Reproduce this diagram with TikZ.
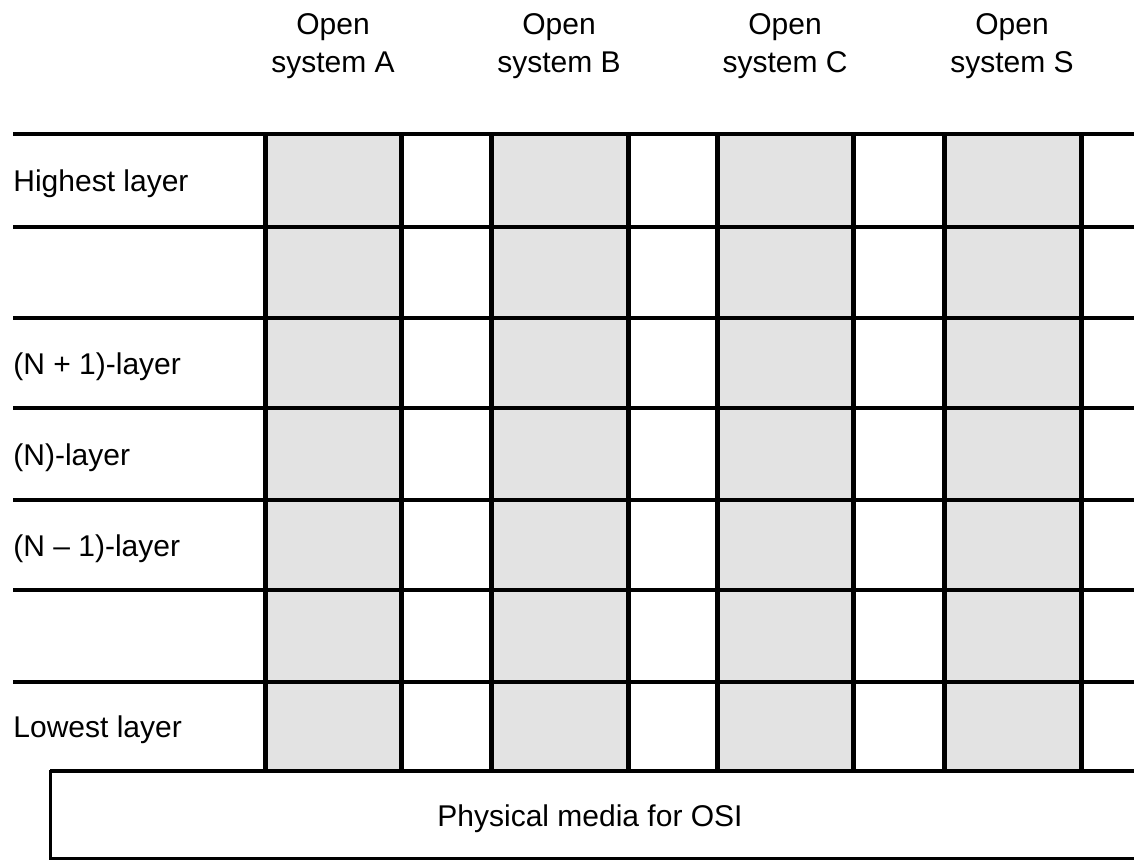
\documentclass[tikz,border=0pt]{standalone}
\usepackage{fontspec}
\setmainfont{Liberation Sans}
\begin{document}
\begin{tikzpicture}[x=0.5pt,y=-0.5pt,
  hline/.style={line width=2pt},
  vline/.style={line width=2.5pt},
  shade/.style={fill=black!11},
  lbl/.style={font=\fontsize{15}{18}\selectfont, inner sep=0pt, anchor=base west},
  hdr/.style={font=\fontsize{15}{18}\selectfont, inner sep=0pt, anchor=base},
  medium/.style={draw, line width=1.5pt}]
\useasboundingbox (0,0) rectangle (1134,861);
% shaded columns
\foreach \l/\r in {265/401, 491/628, 717/853, 944/1081}
  \fill[shade] (\l,134) rectangle (\r,771);
% horizontal layer lines
\foreach \y in {134,227,318,408,500,590,682}
  \draw[hline] (13,\y) -- (1134,\y);
% vertical lines
\foreach \x in {265,401,491,628,717,853,944,1081}
  \draw[vline] (\x,134) -- (\x,771);
% physical media
\draw[medium] (1140,771) -- (50,771) -- (50,858) -- (1140,858);
\draw[hline] (50,771) -- (1134,771);
\node[hdr] (pm) at (590,826) {Physical media for OSI};
% headers
\node[hdr] (hA1) at (333,35) {Open};
\node[hdr] (hA2) at (333,73) {system A};
\node[hdr] (hB1) at (559,35) {Open};
\node[hdr] (hB2) at (559,73) {system B};
\node[hdr] (hC1) at (785,35) {Open};
\node[hdr] (hC2) at (785,73) {system C};
\node[hdr] (hS1) at (1012,35) {Open};
\node[hdr] (hS2) at (1012,73) {system S};
% layer labels
\node[lbl] (lh) at (13,192) {Highest layer};
\node[lbl] (lnp) at (13,374) {(N + 1)-layer};
\node[lbl] (ln) at (13,465) {(N)-layer};
\node[lbl] (lnm) at (13,556) {(N -- 1)-layer};
\node[lbl] (ll) at (13,737) {Lowest layer};
\end{tikzpicture}
\end{document}
